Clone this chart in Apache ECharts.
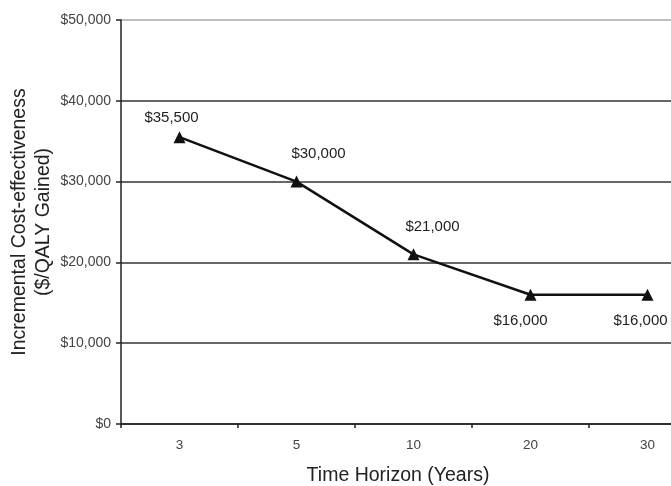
<!DOCTYPE html>
<html>
<head>
<meta charset="utf-8">
<script src="https://cdn.jsdelivr.net/npm/echarts@6/dist/echarts.min.js"></script>
<style>
html,body{margin:0;padding:0;background:#fff;}
#chart{width:671px;height:486px;}
</style>
</head>
<body>
<div id="chart"></div>
<script>
// Time horizons (years) and incremental cost-effectiveness ($/QALY gained)
const horizons = ['3', '5', '10', '20', '30'];
const icer = [35500, 30000, 21000, 16000, 16000];
// Label placement per point: above for the first three, below for the last two
const labelSide = ['top', 'top', 'top', 'bottom', 'bottom'];
const labelDist = [5.5, 14.5, 13.5, 12.5, 12.5];
const labelShiftX = [-8, 22, 19, -10, -7];

const fmt = v => '$' + v.toLocaleString('en-US');
const FONT = 'Liberation Sans, Arial, sans-serif';

const chart = echarts.init(document.getElementById('chart'));
chart.setOption({
  animation: false,
  backgroundColor: '#fff',
  grid: { left: 121, top: 20, width: 585, height: 404, containLabel: false, outerBoundsMode: 'none' },
  xAxis: {
    type: 'category',
    data: horizons,
    boundaryGap: true,
    name: 'Time Horizon (Years)',
    nameLocation: 'middle',
    nameGap: 42,
    nameMoveOverlap: false,
    nameTextStyle: { fontFamily: FONT, fontSize: 19.5, color: '#222', padding: [0, 31, 0, 0] },
    axisLine: { lineStyle: { color: '#222', width: 1.5 } },
    axisTick: { show: true, length: 4, lineStyle: { color: '#222', width: 1.5 } },
    axisLabel: { fontFamily: FONT, fontSize: 13.5, color: '#444', margin: 14 },
    splitLine: { show: false }
  },
  yAxis: {
    type: 'value',
    min: 0,
    max: 50000,
    interval: 10000,
    name: 'Incremental Cost-effectiveness\n($/QALY Gained)',
    nameLocation: 'middle',
    nameGap: 65,
    nameMoveOverlap: false,
    nameRotate: 90,
    nameTextStyle: { fontFamily: FONT, fontSize: 19.5, color: '#222', lineHeight: 24 },
    axisLine: { show: true, lineStyle: { color: '#222', width: 1.5 } },
    axisTick: { show: true, length: 5, lineStyle: { color: '#222', width: 1.5 } },
    axisLabel: { fontFamily: FONT, fontSize: 14, color: '#444', margin: 10, formatter: fmt },
    splitLine: {
      show: true,
      lineStyle: { color: ['#333', '#333', '#333', '#333', '#333', '#aaa'], width: 1.5 }
    }
  },
  series: [{
    type: 'line',
    data: icer.map((v, i) => ({
      value: v,
      label: { position: labelSide[i], distance: labelDist[i], offset: [labelShiftX[i], 0] }
    })),
    symbol: 'triangle',
    symbolSize: 12,
    lineStyle: { color: '#111', width: 2.5 },
    itemStyle: { color: '#111' },
    label: {
      show: true,
      formatter: p => fmt(p.value),
      fontFamily: FONT,
      fontSize: 15,
      color: '#222'
    }
  }]
});
</script>
</body>
</html>
